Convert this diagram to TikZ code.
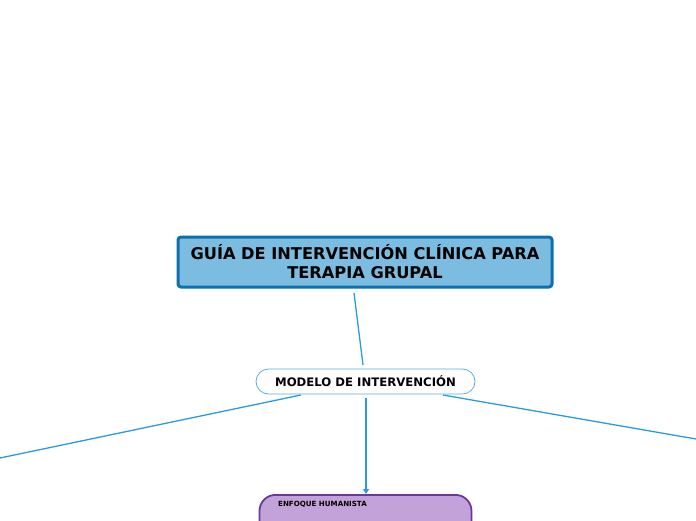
\documentclass[tikz,border=0pt]{standalone}
\usepackage{fontspec}
\setmainfont{DejaVu Sans}
\usetikzlibrary{arrows.meta,calc}
\definecolor{mainfill}{HTML}{7BBCE0}
\definecolor{mainborder}{HTML}{0A70B0}
\definecolor{linkcol}{HTML}{2B9BE0}
\definecolor{subborder}{HTML}{5AAEE2}
\definecolor{purpfill}{HTML}{C3A2DA}
\definecolor{purpborder}{HTML}{6B3898}
\tikzset{
  mainbox/.style={draw=mainborder, line width=3pt, fill=mainfill, rounded corners=3pt,
    minimum width=374pt, minimum height=50pt, inner sep=0pt, align=center,
    font=\fontsize{16.2}{19}\selectfont\bfseries},
  subbox/.style={draw=subborder, line width=0.8pt, fill=white, rounded corners=12.5pt,
    minimum width=219pt, minimum height=25pt, inner sep=0pt,
    font=\fontsize{11.7}{13}\selectfont\bfseries},
  purpbox/.style={draw=purpborder, line width=1.8pt, fill=purpfill, rounded corners=16pt,
    minimum width=212pt, minimum height=60pt, inner sep=0pt},
  link/.style={draw=linkcol, line width=1.3pt},
}
\begin{document}
\begin{tikzpicture}[x=1pt,y=-1pt]
\useasboundingbox (0,0) rectangle (696,520);
\begin{scope}
\clip (0,0) rectangle (696,520);
\node[mainbox] (main) at (365,262) {GUÍA DE INTERVENCIÓN CLÍNICA PARA\\TERAPIA GRUPAL};
\node[subbox] (modelo) at (365.5,381.5) {MODELO DE INTERVENCIÓN};
\node[purpbox, anchor=north] (enfoque) at (365.5,494) {};
\node[anchor=north west, inner sep=0pt, font=\fontsize{7.1}{8}\selectfont\bfseries] (enftitle) at (278,501) {ENFOQUE HUMANISTA};
\coordinate (leftend) at (0,458);
\coordinate (rightend) at (696,439);
\coordinate (m1) at (354,293);
\coordinate (m2) at (363,365);
\coordinate (ls) at (301,395);
\coordinate (rs) at (443,395);
\coordinate (ds) at (366,398);
\draw[link] (m1) -- (m2);
\draw[link] (ls) -- (leftend);
\draw[link] (rs) -- (rightend);
\draw[link, -{Triangle[width=6pt,length=5pt]}] (ds) -- (ds |- enfoque.north);
\end{scope}
\end{tikzpicture}
\end{document}
